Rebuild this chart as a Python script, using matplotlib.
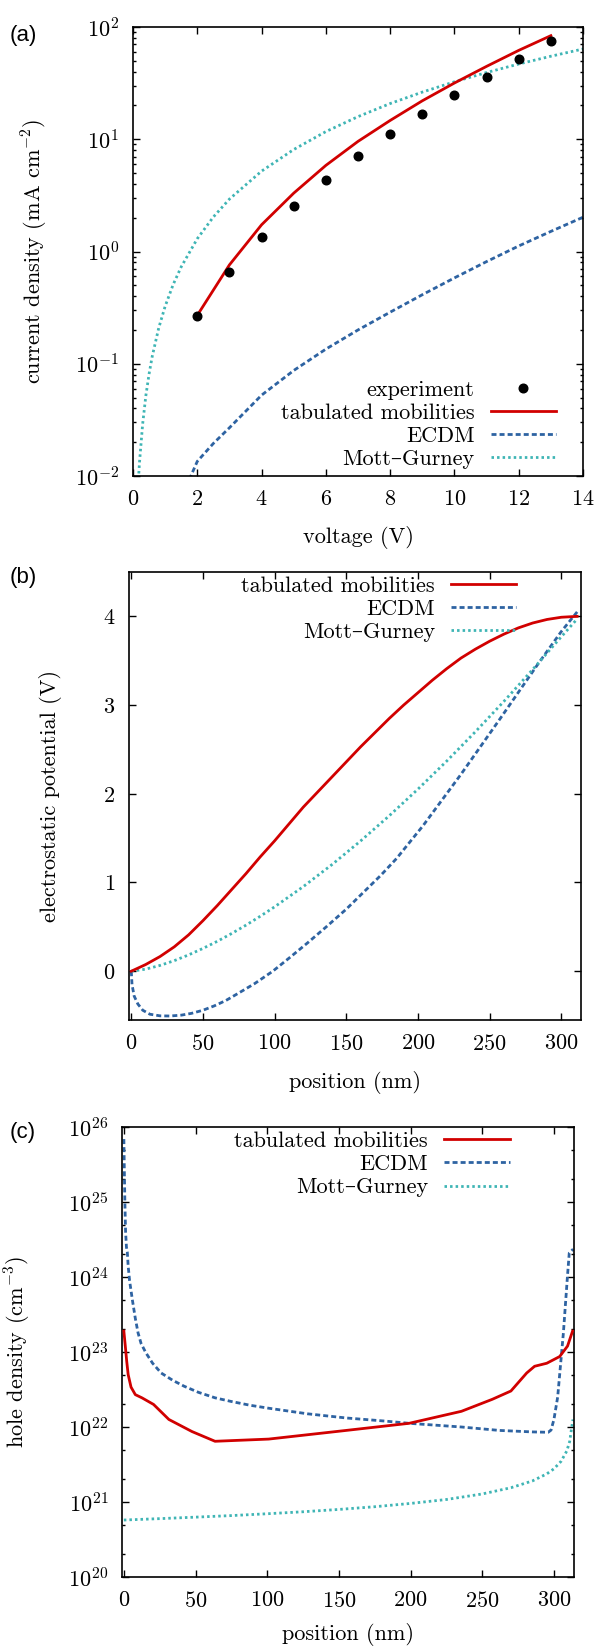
import matplotlib
matplotlib.use('Agg')
import matplotlib.pyplot as plt
from matplotlib.ticker import LogLocator, NullFormatter, FixedLocator
import numpy as np

plt.rcParams['font.family'] = ['cmr10', 'DejaVu Serif']
plt.rcParams['mathtext.fontset'] = 'cm'
plt.rcParams['axes.unicode_minus'] = False
plt.rcParams['axes.formatter.use_mathtext'] = True

# ---------------- data: panel (a) ----------------
exp_voltage = [2, 3, 4, 5, 6, 7, 8, 9, 10, 11, 12, 13]
exp_current = [0.264, 0.655, 1.36, 2.52, 4.35, 7.13, 11.1, 16.9, 24.9, 36.1, 52.2, 74.5]

tab_voltage = [2, 3, 4, 5, 6, 7, 8, 9, 10, 11, 12, 13]
tab_current = [0.27, 0.76, 1.73, 3.31, 5.85, 9.57, 14.7, 22.0, 31.7, 44.6, 61.9, 83.7]

ecdm_voltage = [1.75, 1.8, 2, 2.5, 3, 4, 5, 6, 7, 8, 9, 10, 11, 12, 13, 14]
ecdm_current = [0.0093, 0.0100, 0.0135, 0.0195, 0.0269, 0.0525, 0.0871, 0.135,
                0.200, 0.288, 0.412, 0.582, 0.813, 1.12, 1.51, 2.02]

mg_voltage = [0.17, 0.2, 0.3, 0.4, 0.5, 0.6, 0.8, 1.0, 1.25, 1.5, 2, 2.5, 3, 4, 5,
              6, 7, 8, 9, 10, 11, 12, 13, 14]
mg_current = [0.0094, 0.013, 0.029, 0.052, 0.081, 0.117, 0.208, 0.325, 0.508, 0.73,
              1.3, 2.03, 2.93, 5.2, 8.1, 11.7, 15.9, 20.8, 26.3, 32.5, 39.3, 46.8,
              54.9, 63.7]

# ---------------- data: panel (b) ----------------
pot_tab_x = [0, 10, 20, 30, 40, 50, 60, 70, 80, 90, 100, 110, 120, 130, 140, 150,
             160, 170, 180, 190, 200, 210, 220, 230, 240, 250, 260, 270, 280, 290,
             300, 311]
pot_tab_v = [0, 0.075, 0.165, 0.275, 0.41, 0.57, 0.74, 0.92, 1.10, 1.29, 1.47, 1.66,
             1.85, 2.02, 2.19, 2.36, 2.53, 2.69, 2.85, 3.00, 3.14, 3.28, 3.41, 3.53,
             3.63, 3.72, 3.80, 3.87, 3.925, 3.965, 3.99, 4.0]

pot_ecdm_x = [0, 0.5, 2, 4.6, 8, 13, 20, 27, 35, 42, 50, 58, 66, 74.5, 86, 98.7,
              111, 123, 136, 150, 162, 174, 185, 203.5, 230, 257, 284, 300, 311]
pot_ecdm_v = [0, -0.15, -0.28, -0.37, -0.44, -0.485, -0.503, -0.505, -0.495, -0.475,
              -0.44, -0.39, -0.33, -0.25, -0.14, 0.0, 0.16, 0.32, 0.50, 0.70, 0.89,
              1.08, 1.27, 1.64, 2.22, 2.84, 3.47, 3.83, 4.05]

pot_mg_x = [0, 10, 20, 30, 40, 50, 60, 70, 80, 90, 100, 120, 140, 160, 180, 200,
            220, 240, 260, 280, 300, 311]
pot_mg_v = [0, 0.023, 0.065, 0.119, 0.184, 0.257, 0.337, 0.425, 0.519, 0.620, 0.726,
            0.954, 1.202, 1.469, 1.753, 2.053, 2.368, 2.699, 3.043, 3.401, 3.771, 3.97]

# ---------------- data: panel (c) ----------------
hd_tab_x = [0, 1, 2, 3, 5, 8, 12.6, 20.7, 31.4, 47.5, 63.6, 101, 155, 199, 235.5,
            257, 270, 281, 286.5, 295, 304, 309.5, 313]
hd_tab_p = [1.9e23, 1.2e23, 7.5e22, 5.0e22, 3.4e22, 2.7e22, 2.45e22, 2.0e22, 1.26e22,
            8.7e21, 6.45e21, 6.9e21, 9.0e21, 1.12e22, 1.62e22, 2.34e22, 3.02e22,
            5.25e22, 6.45e22, 7.08e22, 8.7e22, 1.2e23, 1.9e23]

hd_ecdm_x = [0, 0.3, 0.7, 1.2, 1.8, 2.4, 3.0, 4.0, 5.9, 8, 9.9, 12, 15.3, 20, 26, 34,
             42, 52, 63.6, 74.4, 88, 101, 128, 155, 182, 199, 235.5, 262, 285, 296,
             298, 300, 302.6, 304, 306.6, 309.4, 310.7, 313.4]
hd_ecdm_p = [6.9e25, 2.8e25, 1.0e25, 4.0e24, 2.5e24, 2.15e24, 1.4e24, 8.9e23, 5.0e23,
             2.8e23, 1.8e23, 1.3e23, 9.8e22, 7.1e22, 5.25e22, 4.2e22, 3.5e22, 2.9e22,
             2.45e22, 2.2e22, 1.95e22, 1.78e22, 1.5e22, 1.32e22, 1.2e22, 1.12e22,
             1.0e22, 9.0e21, 8.6e21, 8.5e21, 9.1e21, 1.26e22, 2.5e22, 5.0e22, 1.8e23,
             1.0e24, 2.1e24, 2.35e24]

hd_mg_x = [0, 25, 50, 75, 100, 125, 150, 175, 200, 225, 250, 270, 285, 295, 300, 305,
           309, 311, 312.5, 313.3]
hd_mg_p = [5.75e20, 6.0e20, 6.28e20, 6.59e20, 6.97e20, 7.41e20, 7.96e20, 8.65e20,
           9.57e20, 1.08e21, 1.28e21, 1.55e21, 1.91e21, 2.37e21, 2.77e21, 3.49e21,
           4.8e21, 6.44e21, 1.02e22, 1.26e22]

# ---------------- labels ----------------
label_tab = 'tabulated mobilities'
label_ecdm = 'ECDM'
label_mg = 'Mott\u2013Gurney'
label_exp = 'experiment'

volt_ticks = [0, 2, 4, 6, 8, 10, 12, 14]
pos_ticks = [0, 50, 100, 150, 200, 250, 300]
pot_ticks = [0, 1, 2, 3, 4]

# ---------------- style ----------------
RED = '#d10000'
BLUE = '#2e63a2'
CYAN = '#3fb5b5'
LW = 2.0
DASH = (0, (1.8, 1.1))
DOT = (0, (0.9, 1.1))
FS = 16

W, H = 600, 1647
fig = plt.figure(figsize=(W / 100, H / 100), dpi=100)


def axes_px(left, top, right, bottom):
    return fig.add_axes([left / W, 1 - bottom / H, (right - left) / W, (bottom - top) / H])


def style(ax):
    for s in ax.spines.values():
        s.set_linewidth(1.2)
    ax.tick_params(which='both', direction='in', top=True, right=True,
                   labelsize=FS, width=1.0)
    ax.tick_params(which='major', length=4.8, pad=10)
    ax.tick_params(which='minor', length=2.4)


def legend(ax, handles, loc, anchor):
    leg = ax.legend(handles=handles, loc=loc, bbox_to_anchor=anchor, frameon=False,
                    markerfirst=False, fontsize=FS, handlelength=2.93,
                    handletextpad=0.74, labelspacing=0.16, borderpad=0,
                    borderaxespad=0, numpoints=1)
    return leg


# ---------------- panel (a) ----------------
axa = axes_px(133, 27, 583, 476)
style(axa)
h_exp, = axa.plot(exp_voltage, exp_current, 'o', color='black', ms=6.2,
                  label=label_exp, zorder=4)
h_tab, = axa.plot(tab_voltage, tab_current, color=RED, lw=LW, label=label_tab, zorder=3)
h_ecdm, = axa.plot(ecdm_voltage, ecdm_current, color=BLUE, lw=LW, ls=DASH,
                   label=label_ecdm, dash_capstyle='butt')
h_mg, = axa.plot(mg_voltage, mg_current, color=CYAN, lw=LW, ls=DOT,
                 label=label_mg, dash_capstyle='butt')
axa.set_yscale('log')
axa.set_xlim(0, 14)
axa.set_ylim(1e-2, 1e2)
axa.xaxis.set_major_locator(FixedLocator(volt_ticks))
axa.yaxis.set_major_locator(LogLocator(base=10, numticks=10))
axa.yaxis.set_minor_locator(LogLocator(base=10, subs=np.arange(2, 10), numticks=20))
axa.yaxis.set_minor_formatter(NullFormatter())
axa.set_xlabel('voltage (V)', fontsize=FS, labelpad=12)
axa.set_ylabel('current density (mA cm$^{-2}$)', fontsize=FS)
axa.yaxis.set_label_coords((50 - 133) / 450, 0.5)
legend(axa, [h_exp, h_tab, h_ecdm, h_mg], 'lower right', (0.94, 0.015))
fig.text(10 / W, 1 - 25 / H, '(a)', family='Liberation Sans', fontsize=16, va='top')

# ---------------- panel (b) ----------------
axb = axes_px(129, 572, 581, 1020)
style(axb)
hb_tab, = axb.plot(pot_tab_x, pot_tab_v, color=RED, lw=LW, label=label_tab, zorder=3)
hb_ecdm, = axb.plot(pot_ecdm_x, pot_ecdm_v, color=BLUE, lw=LW, ls=DASH,
                    label=label_ecdm, dash_capstyle='butt')
hb_mg, = axb.plot(pot_mg_x, pot_mg_v, color=CYAN, lw=LW, ls=DOT,
                  label=label_mg, dash_capstyle='butt')
axb.set_xlim(-1.6, 313.7)
axb.set_ylim(-0.55, 4.5)
axb.xaxis.set_major_locator(FixedLocator(pos_ticks))
axb.yaxis.set_major_locator(FixedLocator(pot_ticks))
axb.set_xlabel('position (nm)', fontsize=FS, labelpad=12)
axb.set_ylabel('electrostatic potential (V)', fontsize=FS)
axb.yaxis.set_label_coords((62 - 129) / 452, 0.5)
legend(axb, [hb_tab, hb_ecdm, hb_mg], 'upper right', (0.857, 0.99))
fig.text(10 / W, 1 - 567 / H, '(b)', family='Liberation Sans', fontsize=16, va='top')

# ---------------- panel (c) ----------------
axc = axes_px(122, 1127, 574, 1577)
style(axc)
hc_tab, = axc.plot(hd_tab_x, hd_tab_p, color=RED, lw=LW, label=label_tab, zorder=3)
hc_ecdm, = axc.plot(hd_ecdm_x, hd_ecdm_p, color=BLUE, lw=LW, ls=DASH,
                    label=label_ecdm, dash_capstyle='butt')
hc_mg, = axc.plot(hd_mg_x, hd_mg_p, color=CYAN, lw=LW, ls=DOT,
                  label=label_mg, dash_capstyle='butt')
axc.set_yscale('log')
axc.set_xlim(-1.3, 314)
axc.set_ylim(1e20, 1e26)
axc.xaxis.set_major_locator(FixedLocator(pos_ticks))
axc.yaxis.set_major_locator(LogLocator(base=10, numticks=10))
axc.yaxis.set_minor_locator(LogLocator(base=10, subs=(2, 5), numticks=20))
axc.yaxis.set_minor_formatter(NullFormatter())
axc.set_xlabel('position (nm)', fontsize=FS, labelpad=9)
axc.set_ylabel('hole density (cm$^{-3}$)', fontsize=FS)
axc.yaxis.set_label_coords((33 - 122) / 452, 0.5)
legend(axc, [hc_tab, hc_ecdm, hc_mg], 'upper right', (0.8575, 0.99))
fig.text(10 / W, 1 - 1122 / H, '(c)', family='Liberation Sans', fontsize=16, va='top')

fig.savefig('out.png', dpi=100)
